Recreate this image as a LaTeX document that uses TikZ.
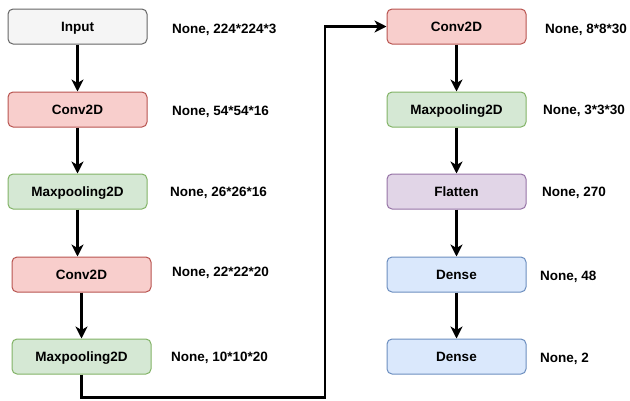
\documentclass[tikz,border=0pt]{standalone}
\usepackage{fontspec}
\setmainfont{Liberation Sans}
\usetikzlibrary{arrows.meta}
\definecolor{grayfill}{HTML}{F5F5F5}\definecolor{graystroke}{HTML}{666666}
\definecolor{redfill}{HTML}{F8CECC}\definecolor{redstroke}{HTML}{B85450}
\definecolor{greenfill}{HTML}{D5E8D4}\definecolor{greenstroke}{HTML}{82B366}
\definecolor{purplefill}{HTML}{E1D5E7}\definecolor{purplestroke}{HTML}{9673A6}
\definecolor{bluefill}{HTML}{DAE8FC}\definecolor{bluestroke}{HTML}{6C8EBF}
\tikzset{
  layer/.style={draw, rounded corners=5pt, line width=1pt, minimum width=139pt,
    minimum height=35pt, inner sep=0pt, text depth=0pt,
    font=\fontsize{13.5}{16}\selectfont\bfseries},
  inputbox/.style={layer, fill=grayfill, draw=graystroke},
  convbox/.style={layer, fill=redfill, draw=redstroke},
  poolbox/.style={layer, fill=greenfill, draw=greenstroke},
  flatbox/.style={layer, fill=purplefill, draw=purplestroke},
  densebox/.style={layer, fill=bluefill, draw=bluestroke},
  dimlabel/.style={anchor=west, inner sep=0pt, font=\fontsize{13.5}{16}\selectfont\bfseries},
  flow/.style={line width=2.2pt, -{Stealth[length=12pt, width=12pt, inset=3.5pt]}}
}
\begin{document}
\begin{tikzpicture}[x=1pt, y=-1pt]
\useasboundingbox (0,0) rectangle (630,400);
% left column
\node[inputbox] (in) at (77.5,26.5) {Input};
\node[convbox]  (c1) at (77.5,109.5) {Conv2D};
\node[poolbox]  (p1) at (77.5,191.5) {Maxpooling2D};
\node[convbox]  (c2) at (81.5,274.5) {Conv2D};
\node[poolbox]  (p2) at (81.5,356.5) {Maxpooling2D};
% right column
\node[convbox]  (c3) at (456.5,26.5) {Conv2D};
\node[poolbox]  (p3) at (456.5,109.5) {Maxpooling2D};
\node[flatbox]  (fl) at (456.5,191.5) {Flatten};
\node[densebox] (d1) at (456.5,274.5) {Dense};
\node[densebox] (d2) at (456.5,356.5) {Dense};
% output shapes
\node[dimlabel] (sin) at (172,30) {None, 224*224*3};
\node[dimlabel] (sc1) at (172,112) {None, 54*54*16};
\node[dimlabel] (sp1) at (170,193) {None, 26*26*16};
\node[dimlabel] (sc2) at (172,273) {None, 22*22*20};
\node[dimlabel] (sp2) at (171,358) {None, 10*10*20};
\node[dimlabel] (sc3) at (545,30) {None, 8*8*30};
\node[dimlabel] (sp3) at (543,111) {None, 3*3*30};
\node[dimlabel] (sfl) at (542,193) {None, 270};
\node[dimlabel] (sd1) at (540,277) {None, 48};
\node[dimlabel] (sd2) at (540,359) {None, 2};
% connectors
\draw[flow] (in.south) -- (in.south |- c1.north);
\draw[flow] (c1.south) -- (c1.south |- p1.north);
\draw[flow] (p1.south) -- (p1.south |- c2.north);
\draw[flow] (c2.south) -- (c2.south |- p2.north);
\coordinate (low) at (81.5,397.5);
\coordinate (turn) at (325,397.5);
\draw[flow] (p2.south) -- (low) -- (turn) -- (turn |- c3.west) -- (c3.west);
\draw[flow] (c3.south) -- (p3.north);
\draw[flow] (p3.south) -- (fl.north);
\draw[flow] (fl.south) -- (d1.north);
\draw[flow] (d1.south) -- (d2.north);
\end{tikzpicture}
\end{document}
